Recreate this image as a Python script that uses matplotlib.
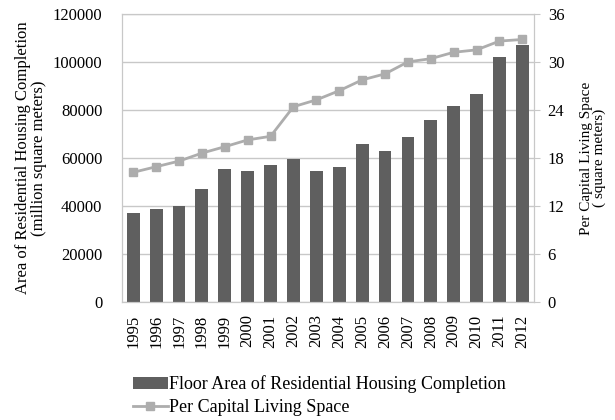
import numpy as np
import matplotlib
matplotlib.use("Agg")
import matplotlib.pyplot as plt

plt.rcParams['font.family'] = ['Liberation Serif', 'DejaVu Serif']

years = ['1995', '1996', '1997', '1998', '1999', '2000', '2001', '2002', '2003',
         '2004', '2005', '2006', '2007', '2008', '2009', '2010', '2011', '2012']
floor_area = [37200, 38900, 40000, 47200, 55300, 54500, 57000, 59500, 54700,
              56400, 65800, 62800, 68600, 75800, 81800, 86500, 102000, 107100]
living_space = [16.2, 16.9, 17.6, 18.6, 19.4, 20.25, 20.7, 24.4, 25.25,
                26.4, 27.75, 28.5, 30.0, 30.4, 31.2, 31.5, 32.6, 32.8]

bar_col = '#5f5f5f'
line_col = '#adadad'
grid_col = '#c8c8c8'

fig = plt.figure(figsize=(6.15, 4.2), dpi=100)
ax = fig.add_axes([0.198, 0.281, 0.670, 0.686])
x = np.arange(len(years))

ax.grid(axis='y', color=grid_col, lw=1)
ax.set_axisbelow(True)
bars = ax.bar(x, floor_area, width=0.56, color=bar_col, zorder=2,
              label='Floor Area of Residential Housing Completion')
ax.set_ylim(0, 120000)
ax.set_xlim(-0.5, len(years) - 0.5)
ax.set_yticks(np.arange(0, 120001, 20000))
ax.set_xticks(x)
ax.set_xticklabels(years, rotation=90)
ax.tick_params(axis='x', length=0, pad=9, labelsize=12)
ax.tick_params(axis='y', length=0, pad=14, labelsize=12)
for s in ax.spines.values():
    s.set_color(grid_col)
ax.set_ylabel('Area of Residential Housing Completion\n(million square meters)',
              fontsize=12, labelpad=4, linespacing=1.0)

ax2 = ax.twinx()
line, = ax2.plot(x, living_space, color=line_col, lw=2, marker='s', ms=5.5,
                 mfc=line_col, mec=line_col, zorder=3,
                 label='Per Capital Living Space')
ax2.set_ylim(0, 36)
ax2.set_yticks(np.arange(0, 37, 6))
ax2.tick_params(axis='y', length=4, color=grid_col, pad=6, labelsize=12)
for s in ax2.spines.values():
    s.set_color(grid_col)
ax2.set_ylabel('Per Capital Living Space\n( square meters)', fontsize=11,
               labelpad=11, linespacing=1.0)

fig.legend(handles=[bars, line], loc='upper left',
           bbox_to_anchor=(0.216, 0.106), frameon=False, fontsize=13,
           handlelength=1.95, handletextpad=0.05, labelspacing=0.3,
           handleheight=0.6, borderaxespad=0, borderpad=0)

fig.savefig('out.png', dpi=100)
